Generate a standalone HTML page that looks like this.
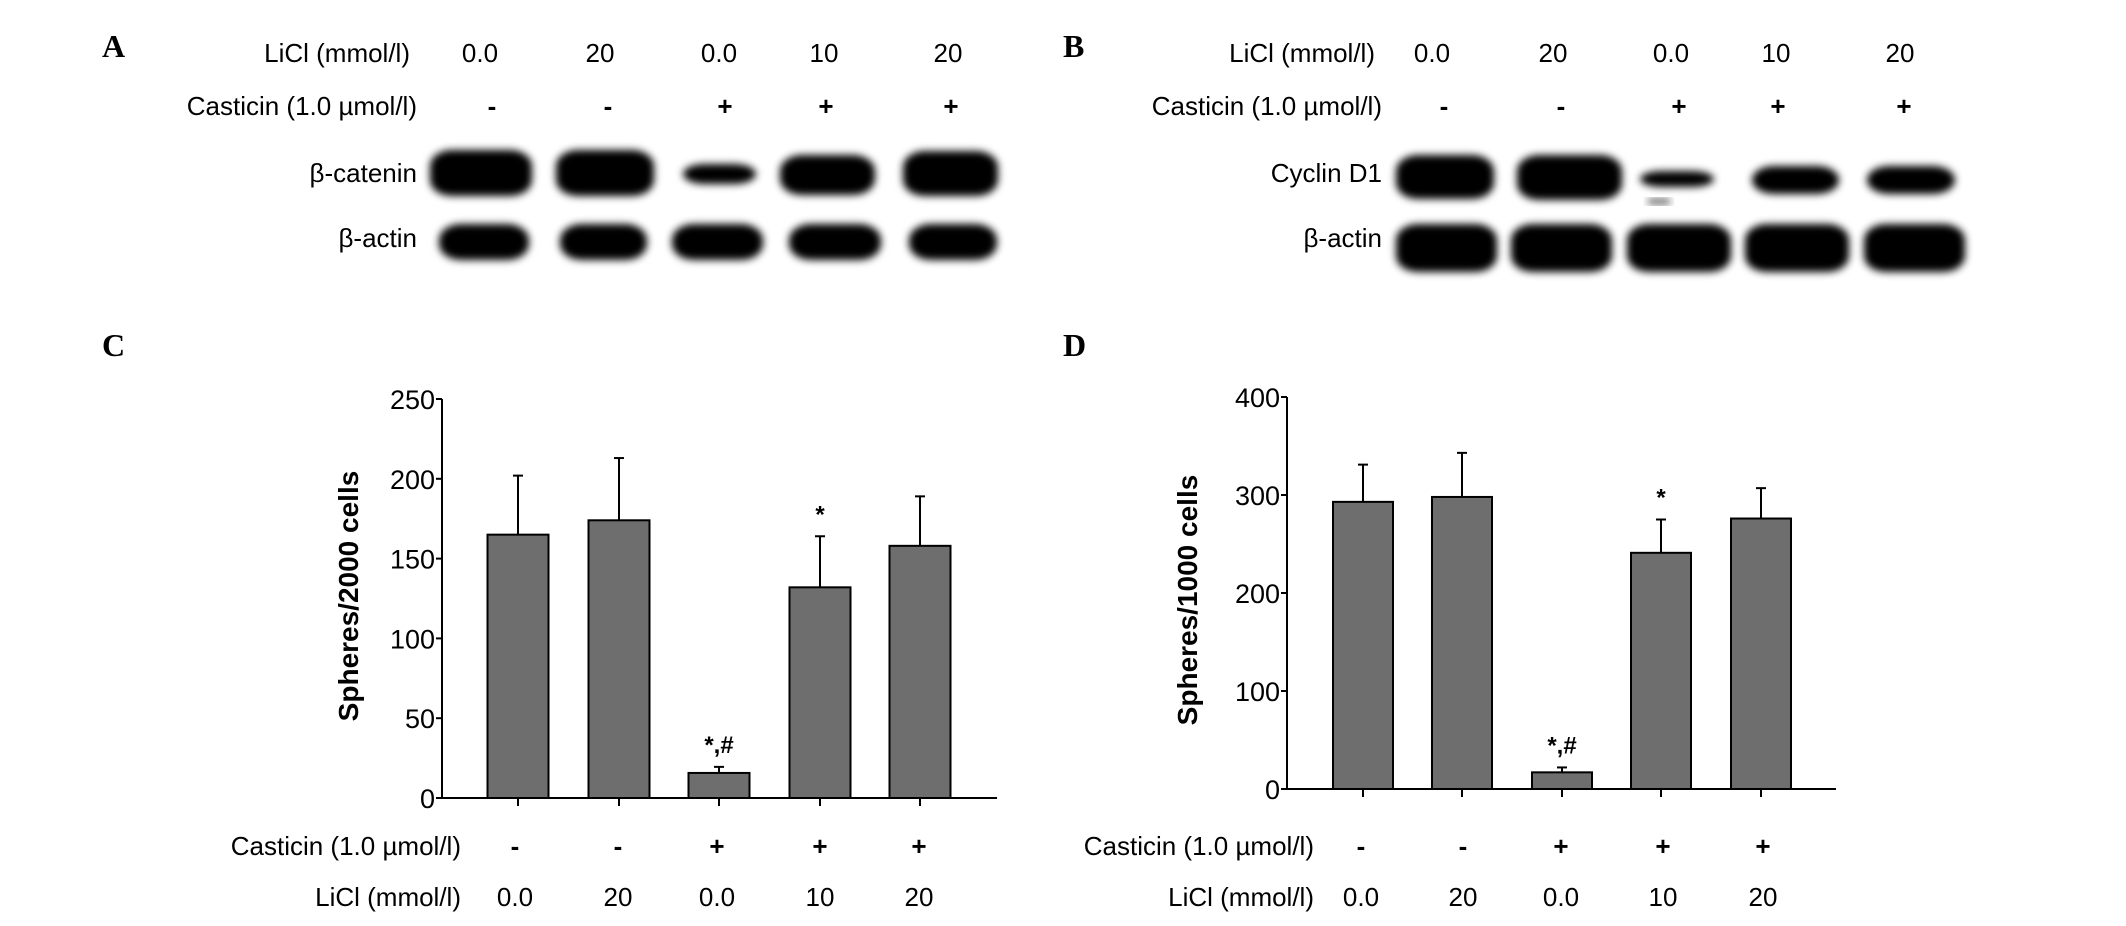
<!DOCTYPE html>
<html><head><meta charset="utf-8"><style>
html,body{margin:0;padding:0;background:#fff;}
svg{display:block;}
text{font-family:"Liberation Sans",Arial,sans-serif;fill:#000;}
.lt{font-family:"Liberation Serif",serif;font-weight:bold;font-size:32px;}
</style></head><body>
<svg id="fig" width="2126" height="926" viewBox="0 0 2126 926" xmlns="http://www.w3.org/2000/svg">
<defs>
<filter id="blur" x="-20%" y="-40%" width="140%" height="180%"><feGaussianBlur stdDeviation="4"/></filter>
</defs>
</svg>
<script>
// Panel C data
const catsC = ["0.0","20","0.0","10","20"];
const casticin = ["-","-","+","+","+"];
const valuesC = [165, 174, 15.7, 132, 158];
const errorsC = [202, 213, 19.5, 164, 189];
const ticksC = [0,50,100,150,200,250];
const annotC = ["","","*,#","*",""];
// Panel D data
const catsD = ["0.0","20","0.0","10","20"];
const valuesD = [293, 298, 17, 241, 276];
const errorsD = [331, 343, 22, 275, 307];
const ticksD = [0,100,200,300,400];
const annotD = ["","","*,#","*",""];

const NS="http://www.w3.org/2000/svg";
const svg=document.getElementById('fig');
function el(tag,attrs,parent){const e=document.createElementNS(NS,tag);for(const k in attrs)e.setAttribute(k,attrs[k]);(parent||svg).appendChild(e);return e;}
function txt(x,y,s,size,anchor,extra){const t=el('text',Object.assign({x:x,y:y,'font-size':size,'text-anchor':anchor||'middle'},extra||{}));t.textContent=s;return t;}

[["A",102,57],["B",1063,57],["C",102,356],["D",1063,356]].forEach(p=>{
  const t=txt(p[1],p[2],p[0],32,'start',{'class':'lt'});
  
  
});

function blot(prefix,labelRight,lx,cx,row1Name,row1Bands,row2Bands){
  let t=txt(labelRight,62,"LiCl (mmol/l)",26,'end');
  
  
  lx.forEach((x,i)=>{const v=txt(x,62,catsC[i],26,'middle');
    
    });
  t=txt(labelRight+7,115,"Casticin (1.0 µmol/l)",26,'end');
  
  
  cx.forEach((x,i)=>{const v=txt(x,115,casticin[i],26,'middle',{'font-weight':'bold'});
    
    });
  t=txt(labelRight+7,182,row1Name,26,'end');
  
  
  t=txt(labelRight+7,247,"β-actin",26,'end');
  
  
  const g=el('g',{filter:'url(#blur)'});
  
  
  row1Bands.forEach(b=>{const r=el('rect',{x:b[0],y:b[1],width:b[2]-b[0],height:b[3]-b[1],rx:22,ry:16,fill:'#050505'},g);
    
    });
  row2Bands.forEach(b=>{const r=el('rect',{x:b[0],y:b[1],width:b[2]-b[0],height:b[3]-b[1],rx:22,ry:16,fill:'#050505'},g);
    
    });
}
blot('panel-a',410,[480,600,719,824,948],[492,608,725,826,951],"β-catenin",
  [[430,150,532,196],[556,150,654,196],[683,164,756,184],[780,155,875,195],[903,151,998,196]],
  [[439,224,529,260],[560,224,647,260],[672,224,763,260],[789,224,881,260],[909,224,997,260]]);
blot('panel-b',1375,[1432,1553,1671,1776,1900],[1444,1561,1679,1778,1904],"Cyclin D1",
  [[1396,155,1494,199],[1517,155,1622,200],[1640,171,1714,187],[1752,166,1839,194],[1867,166,1955,194]],
  [[1396,224,1497,272],[1511,224,1612,272],[1627,224,1731,272],[1745,224,1849,272],[1864,224,1965,272]]);
const spot=el('rect',{x:1648,y:199,width:22,height:5,fill:'#444',filter:'url(#blur)'});



function chart(prefix,ax,y0,yTop,maxV,xEnd,centers,barW,vals,errs,ticks,annot,cats,title,titleX,titleY,labelX,rowY1,rowY2,valX){
  const yS=v=>y0-(v/maxV)*(y0-yTop);
  const g=el('g',{});
  
  
  let l=el('line',{x1:ax,y1:yTop,x2:ax,y2:y0+1,stroke:'#000','stroke-width':2},g);
  
  
  l=el('line',{x1:ax-1,y1:y0,x2:xEnd,y2:y0,stroke:'#000','stroke-width':2},g);
  
  
  ticks.forEach(tv=>{
    const y=yS(tv);
    const tk=el('line',{x1:ax-6,y1:y,x2:ax,y2:y,stroke:'#000','stroke-width':2},g);
    
    
    const tl=txt(ax-7,y+10,String(tv),27,'end');
    
    
  });
  vals.forEach((v,i)=>{
    const cx=centers[i];
    const e=el('line',{x1:cx,y1:yS(v),x2:cx,y2:yS(errs[i]),stroke:'#000','stroke-width':2},g);
    
    
    const c=el('line',{x1:cx-5,y1:yS(errs[i]),x2:cx+5,y2:yS(errs[i]),stroke:'#000','stroke-width':2},g);
    
    
    const b=el('rect',{x:cx-barW/2,y:yS(v),width:barW,height:y0-yS(v),fill:'#6e6e6e',stroke:'#000','stroke-width':2},g);
    
    
    const xt=el('line',{x1:cx,y1:y0,x2:cx,y2:y0+8,stroke:'#000','stroke-width':2},g);
    
    
    if(annot[i]){const a=txt(cx,yS(errs[i])-14,annot[i],24,'middle',{'font-weight':'bold'});
      
      }
    const s=txt(valX[i],rowY1,casticin[i],26,'middle',{'font-weight':'bold'});
    
    
    const lv=txt(valX[i],rowY2,cats[i],26,'middle');
    
    
  });
  const tt=txt(0,0,title,28,'middle',{'font-weight':'bold',transform:`translate(${titleX},${titleY}) rotate(-90)`});
  
  
  let r=txt(labelX,rowY1,"Casticin (1.0 µmol/l)",26,'end');
  
  
  r=txt(labelX,rowY2,"LiCl (mmol/l)",26,'end');
  
  
}
chart('panel-c',442,798,399,250,997,[518,619,719,820,920],61,valuesC,errorsC,ticksC,annotC,catsC,
  "Spheres/2000 cells",358,596,461,855,906,[515,618,717,820,919]);
chart('panel-d',1287,789,397,400,1836,[1363,1462,1562,1661,1761],60,valuesD,errorsD,ticksD,annotD,catsD,
  "Spheres/1000 cells",1197,600,1314,855,906,[1361,1463,1561,1663,1763]);
</script>
</body></html>
